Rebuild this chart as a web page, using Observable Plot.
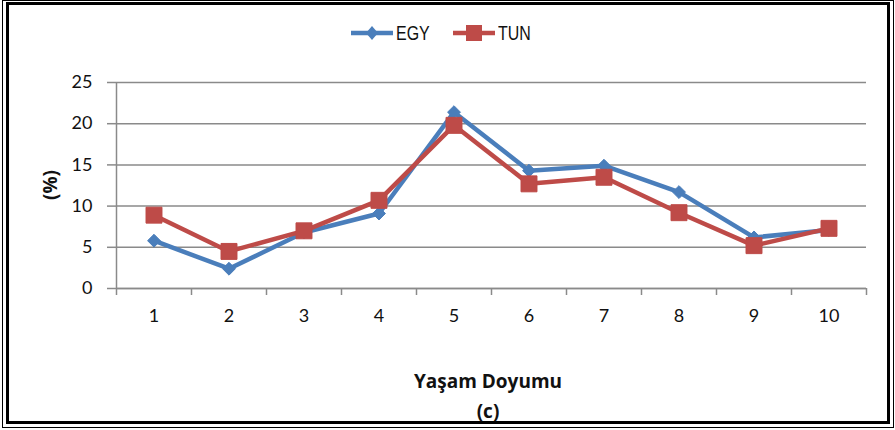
<!DOCTYPE html>
<html>
<head>
<meta charset="utf-8">
<script src="https://cdn.jsdelivr.net/npm/d3@7"></script>
<script src="https://cdn.jsdelivr.net/npm/@observablehq/plot@0.6"></script>
<style>
  html, body { margin: 0; padding: 0; background: #fff; }
  #wrap { position: relative; width: 895px; height: 430px; overflow: hidden; font-family: Lato, "Open Sans", sans-serif; }
  #outer { position: absolute; left: 2px; top: 0px; width: 890px; height: 426px; border: 1px solid #000; box-sizing: content-box; }
  #inner { position: absolute; left: 6px; top: 2px; width: 878px; height: 416px; border: 3px solid #000; }
  #chart { position: absolute; left: 0; top: 0; }
  #chart svg g[aria-label="y-axis tick label"] text,
  #chart svg g[aria-label="x-axis tick label"] text { font-size: 18px; }
  #legend { position: absolute; top: 21px; left: 350px; display: flex; align-items: center; font-family: "Liberation Sans", sans-serif; font-size: 21px; color: #111; }
  #legend .item { display: flex; align-items: center; margin-right: 20px; }
  #legend .item span { display: inline-block; transform: scaleX(0.76); transform-origin: left center; width: 36px; }
  #legend svg { margin-right: 2px; }
  .xt { position: absolute; left: 0; width: 976px; text-align: center; font-family: "Open Sans", sans-serif; font-weight: bold; font-size: 19px; line-height: 26px; color: #111; }
  #ylab { position: absolute; left: 50px; top: 185px; transform: translate(-50%, -50%) rotate(-90deg); font-family: "Open Sans", sans-serif; font-weight: bold; font-size: 19px; line-height: 26px; color: #111; white-space: nowrap; }
</style>
</head>
<body>
<div id="wrap">
  <div id="outer"></div>
  <div id="inner"></div>
  <div id="chart"></div>
  <div id="legend"></div>
  <div id="ylab">(%)</div>
  <div class="xt" style="top:368px">Yaşam Doyumu</div>
  <div class="xt" style="top:398px">(c)</div>
</div>
<script>
const categories = [1, 2, 3, 4, 5, 6, 7, 8, 9, 10];
const egy = [5.8, 2.4, 6.8, 9.1, 21.4, 14.3, 14.9, 11.7, 6.2, 7.1];
const tun = [8.9, 4.5, 7.0, 10.7, 19.8, 12.7, 13.5, 9.2, 5.2, 7.3];
const yTicks = [0, 5, 10, 15, 20, 25];
const seriesNames = ["EGY", "TUN"];
const colors = {EGY: "#4a7ebb", TUN: "#be4b48"};

const data = [];
categories.forEach((c, i) => {
  data.push({cat: c, val: egy[i], s: "EGY"});
  data.push({cat: c, val: tun[i], s: "TUN"});
});
const egyData = data.filter(d => d.s === "EGY");
const tunData = data.filter(d => d.s === "TUN");
const boundaries = [0.5, ...categories.map(c => c + 0.5)];

const chart = Plot.plot({
  width: 895,
  height: 430,
  marginTop: 82,
  marginBottom: 142,
  marginLeft: 116,
  marginRight: 29,
  style: {fontFamily: "Lato, 'Open Sans', sans-serif", fontSize: "18px", color: "#111", background: "transparent"},
  x: {type: "linear", domain: [0.5, 10.5]},
  y: {domain: [0, 25]},
  marks: [
    Plot.gridY(yTicks, {stroke: "#8a8a8a", strokeOpacity: 1, strokeWidth: 1.5, x1: 0.5, x2: 10.5}),
    Plot.axisY(yTicks, {tickSize: 9, stroke: "#8a8a8a", strokeWidth: 1.5, tickPadding: 15, label: null, fontSize: 18}),
    Plot.ruleX([0.5], {stroke: "#8a8a8a", strokeWidth: 1.5}),
    Plot.axisX(boundaries, {tickSize: 7, stroke: "#8a8a8a", strokeWidth: 1.5, tickFormat: () => "", label: null}),
    Plot.axisX(categories, {tickSize: 0, tickPadding: 21, label: null, fontSize: 18}),
    Plot.ruleY([0], {stroke: "#8a8a8a", strokeWidth: 1.5}),
    Plot.line(egyData, {x: "cat", y: "val", stroke: colors.EGY, strokeWidth: 4.5}),
    Plot.dot(egyData, {x: "cat", y: "val", symbol: "diamond2", r: 5.8, fill: colors.EGY, stroke: colors.EGY, strokeWidth: 1}),
    Plot.line(tunData, {x: "cat", y: "val", stroke: colors.TUN, strokeWidth: 4.5}),
    Plot.dot(tunData, {x: "cat", y: "val", symbol: "square", r: 9, fill: colors.TUN, stroke: colors.TUN, strokeWidth: 1})
  ]
});
document.getElementById("chart").appendChild(chart);

// legend
const legend = document.getElementById("legend");
seriesNames.forEach(name => {
  const item = document.createElement("div");
  item.className = "item";
  const c = colors[name];
  const sym = name === "EGY"
    ? `<path d="M22,4 L28,11 L22,18 L16,11 Z" fill="${c}"/>`
    : `<rect x="14" y="3" width="16" height="16" fill="${c}"/>`;
  item.innerHTML = `<svg width="44" height="22"><line x1="1" y1="11" x2="43" y2="11" stroke="${c}" stroke-width="4.5"/>${sym}</svg><span>${name}</span>`;
  legend.appendChild(item);
});
</script>
</body>
</html>
